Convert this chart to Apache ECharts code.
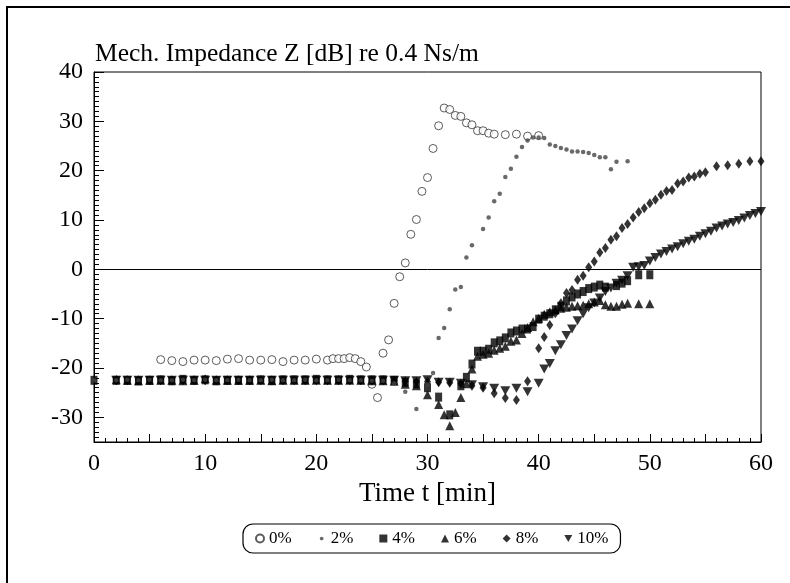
<!DOCTYPE html>
<html>
<head>
<meta charset="utf-8">
<script src="https://cdn.jsdelivr.net/npm/echarts@6/dist/echarts.min.js"></script>
<style>
  html, body { margin: 0; padding: 0; background: #fff; }
  #chart { width: 790px; height: 583px; }
</style>
</head>
<body>
<div id="chart"></div>
<script>
// [time (min), impedance (dB)]
var pct0 = [[6,-18.3],[7,-18.5],[8,-18.7],[9,-18.4],[10,-18.4],[11,-18.5],[12,-18.2],[13,-18.1],[14,-18.4],[15,-18.4],
  [16,-18.3],[17,-18.7],[18,-18.4],[19,-18.4],[20,-18.2],[21,-18.4],[21.5,-18.1],[22,-18.1],[22.5,-18.1],[23,-17.9],
  [23.5,-18.1],[24,-18.7],[24.5,-19.8],[25,-23.3],[25.5,-26.0],[26,-17.0],[26.5,-14.3],[27,-6.9],[27.5,-1.5],[28,1.3],
  [28.5,7.1],[29,10.1],[29.5,15.8],[30,18.6],[30.5,24.5],[31,29.1],[31.5,32.7],[32,32.4],[32.5,31.2],[33,31.0],
  [33.5,29.7],[34,29.3],[34.5,28.1],[35,28.1],[35.5,27.6],[36,27.4],[37,27.3],[38,27.4],[39,27.0],[40,27.1]];

var pct2 = [[0,-22.5],[2,-22.5],[3,-22.4],[4,-22.5],[5,-22.4],[6,-22.5],[7,-22.5],[8,-22.4],[9,-22.5],[10,-22.4],
  [11,-22.5],[12,-22.5],[13,-22.4],[14,-22.5],[15,-22.5],[16,-22.4],[17,-22.5],[18,-22.5],[19,-22.4],[20,-22.5],
  [21,-22.5],[22,-22.4],[23,-22.5],[24,-22.5],[25,-22.6],[26,-22.6],[27,-23.1],[28,-24.8],[29,-28.3],[30,-23.4],
  [30.5,-21.0],[31,-13.9],[31.5,-11.9],[32,-8.1],[32.5,-4.1],[33,-3.6],[33.5,2.4],[34,4.9],[35,8.2],[35.5,10.5],
  [36,13.8],[36.5,15.3],[37,18.7],[37.5,20.4],[38,22.8],[38.5,24.8],[39,26.1],[39.5,26.7],[40,26.7],[40.5,26.6],
  [41,25.3],[41.5,25.0],[42,24.6],[42.5,24.3],[43,23.9],[43.5,23.9],[44,23.8],[44.5,23.6],[45,23.2],[45.5,22.7],
  [46,22.7],[46.5,20.3],[47,21.8],[48,21.9]];

var pct4 = [[0,-22.5],[2,-22.5],[3,-22.5],[4,-22.6],[5,-22.5],[6,-22.4],[7,-22.6],[8,-22.3],[9,-22.5],[10,-22.4],
  [11,-22.6],[12,-22.5],[13,-22.5],[14,-22.5],[15,-22.4],[16,-22.5],[17,-22.4],[18,-22.4],[19,-22.4],[20,-22.3],
  [21,-22.4],[22,-22.4],[23,-22.3],[24,-22.4],[25,-22.4],[26,-22.4],[27,-22.5],[28,-22.9],[29,-23.2],[30,-24.0],
  [31,-25.9],[32,-29.5],[33,-23.6],[33.5,-21.9],[34,-19.2],[34.5,-16.6],[35,-16.6],[35.5,-16.2],[36,-14.9],[36.5,-14.5],
  [37,-13.9],[37.5,-12.9],[38,-12.5],[38.5,-12.1],[39,-12.1],[39.5,-11.6],[40,-10.1],[40.5,-9.5],[41,-9.0],[41.5,-8.2],
  [42,-7.5],[42.5,-6.4],[43,-5.6],[43.5,-5.0],[44,-4.5],[44.5,-3.9],[45,-3.6],[45.5,-3.2],[46,-3.6],[47,-3.3],
  [47.5,-2.8],[48,-2.3],[49,-1.1],[50,-1.1]];

var pct6 = [[2,-22.4],[3,-22.5],[4,-22.6],[5,-22.5],[6,-22.5],[7,-22.5],[8,-22.6],[9,-22.5],[10,-22.2],[11,-22.5],
  [12,-22.5],[13,-22.5],[14,-22.5],[15,-22.5],[16,-22.6],[17,-22.5],[18,-22.5],[19,-22.5],[20,-22.5],[21,-22.5],
  [22,-22.5],[23,-22.5],[24,-22.5],[25,-22.6],[26,-22.6],[27,-22.7],[28,-23.3],[29,-23.6],[30,-25.4],[31,-27.4],
  [31.5,-29.5],[32,-31.7],[32.5,-29.0],[33,-26.0],[33.5,-23.2],[34,-20.2],[34.5,-17.6],[35,-17.2],[35.5,-17.0],[36,-16.4],
  [36.5,-16.0],[37,-15.6],[37.5,-14.6],[38,-14.3],[38.5,-13.0],[39,-11.8],[39.5,-10.6],[40,-9.9],[40.5,-9.1],[41,-8.6],
  [41.5,-8.2],[42,-7.9],[42.5,-7.7],[43,-7.5],[43.5,-7.4],[44,-7.3],[44.5,-7.0],[45,-6.6],[45.5,-6.3],[46,-7.2],
  [46.5,-7.5],[47,-7.5],[47.5,-7.1],[48,-6.9],[49,-7.0],[50,-7.0]];

var pct8 = [[2,-22.5],[3,-22.5],[4,-22.5],[5,-22.5],[6,-22.5],[7,-22.5],[8,-22.5],[9,-22.5],[10,-22.5],[11,-22.5],
  [12,-22.5],[13,-22.5],[14,-22.5],[15,-22.5],[16,-22.5],[17,-22.5],[18,-22.5],[19,-22.5],[20,-22.5],[21,-22.5],
  [22,-22.5],[23,-22.5],[24,-22.5],[25,-22.5],[26,-22.5],[27,-22.6],[28,-22.7],[29,-22.8],[30,-22.8],[31,-22.9],
  [32,-23.0],[33,-23.2],[34,-23.6],[35,-24.0],[36,-25.1],[37,-26.1],[38,-26.5],[39,-22.7],[40,-16.0],[40.5,-13.7],
  [41,-11.3],[41.5,-8.9],[42,-6.9],[42.5,-4.8],[43,-4.2],[43.5,-2.1],[44,-1.3],[44.5,0.4],[45,1.6],[45.5,3.4],
  [46,4.3],[46.5,6.0],[47,6.7],[47.5,8.4],[48,9.2],[48.5,10.5],[49,11.6],[49.5,12.4],[50,13.4],[50.5,14.1],
  [51,15.1],[51.5,15.9],[52,16.1],[52.5,17.4],[53,17.8],[53.5,18.6],[54,18.8],[54.5,19.4],[55,19.7],[56,20.9],
  [57,21.1],[58,21.4],[59,21.9],[60,21.9]];

var pct10 = [[2,-22.5],[3,-22.5],[4,-22.5],[5,-22.5],[6,-22.5],[7,-22.5],[8,-22.5],[9,-22.5],[10,-22.5],[11,-22.5],
  [12,-22.5],[13,-22.5],[14,-22.5],[15,-22.5],[16,-22.5],[17,-22.5],[18,-22.5],[19,-22.5],[20,-22.5],[21,-22.5],
  [22,-22.5],[23,-22.5],[24,-22.5],[25,-22.5],[26,-22.5],[27,-22.5],[28,-22.6],[29,-22.6],[30,-22.4],[31,-22.9],
  [32,-22.9],[33,-23.1],[34,-23.4],[35,-23.8],[36,-24.1],[37,-24.6],[38,-24.1],[39,-24.8],[40,-23.1],[40.5,-20.2],
  [41,-19.1],[41.5,-16.5],[42,-15.3],[42.5,-13.4],[43,-12.1],[43.5,-10.4],[44,-9.0],[44.5,-7.8],[45,-6.8],[45.5,-5.8],
  [46,-4.5],[46.5,-3.8],[47,-2.8],[47.5,-2.2],[48,-1.3],[48.5,0.4],[49,0.5],[49.5,0.8],[50,1.7],[50.5,2.4],
  [51,3.1],[51.5,3.6],[52,4.1],[52.5,4.6],[53,5.2],[53.5,5.7],[54,6.1],[54.5,6.7],[55,7.2],[55.5,7.7],
  [56,8.4],[56.5,8.8],[57,9.2],[57.5,9.5],[58,9.9],[58.5,10.4],[59,10.9],[59.5,11.3],[60,11.7]];

var seriesNames = ['0%', '2%', '4%', '6%', '8%', '10%'];
var yLabelValues = [-30, -20, -10, 0, 10, 20, 30, 40];
var xLabelValues = [0, 10, 20, 30, 40, 50, 60];

var serif = 'Liberation Serif';

// small dot for the 2% legend entry (the default symbol fills the whole icon box)
var dotIcon = 'image://data:image/svg+xml;utf8,' + encodeURIComponent(
  '<svg xmlns="http://www.w3.org/2000/svg" width="10" height="10"><circle cx="5" cy="5" r="2.3" fill="#444"/></svg>');

var chart = echarts.init(document.getElementById('chart'), null, { renderer: 'canvas' });

var options = {
  animation: false,
  backgroundColor: '#fff',
  textStyle: { fontFamily: serif, color: '#000' },
  title: {
    text: 'Mech. Impedance Z [dB] re 0.4 Ns/m',
    left: 90,
    top: 36,
    textStyle: { fontFamily: serif, fontWeight: 'normal', fontSize: 25.5, color: '#000' }
  },
  grid: {
    left: 94, right: 29, top: 72, bottom: 141,
    show: true, borderColor: '#000', borderWidth: 1, backgroundColor: 'transparent'
  },
  legend: {
    left: 243, top: 524,
    data: [
      { name: '0%' },
      { name: '2%', icon: dotIcon },
      { name: '4%' },
      { name: '6%' },
      { name: '8%' },
      { name: '10%', icon: 'path://M0,0L10,0L5,9Z' }
    ],
    itemWidth: 8, itemHeight: 8, itemGap: 26,
    padding: [6, 12, 6, 12],
    borderColor: '#000', borderWidth: 1.2, borderRadius: 10,
    textStyle: { fontFamily: serif, fontSize: 17, color: '#000' }
  },
  xAxis: {
    type: 'value', min: 0, max: 60, interval: 5,
    name: 'Time t [min]', nameLocation: 'middle', nameGap: 37,
    nameTextStyle: { fontFamily: serif, fontSize: 27, color: '#000' },
    axisLine: { onZero: false, lineStyle: { color: '#000', width: 1 } },
    axisTick: { inside: true, length: 8, lineStyle: { color: '#000' } },
    minorTick: { show: true, splitNumber: 5, length: 4, lineStyle: { color: '#000' } },
    splitLine: { show: false },
    axisLabel: {
      margin: 10, fontFamily: serif, fontSize: 24, color: '#000',
      customValues: xLabelValues
    }
  },
  yAxis: [
    {
      type: 'value', min: -35, max: 40, interval: 5,
      axisLine: { onZero: false, lineStyle: { color: '#000', width: 1 } },
      axisTick: { inside: true, length: 5, lineStyle: { color: '#000' } },
      minorTick: { show: true, splitNumber: 5, length: 5, lineStyle: { color: '#000' } },
      splitLine: { show: false },
      axisLabel: { show: false }
    },
    {
      type: 'value', min: -35, max: 40, position: 'left',
      axisLine: { show: false, onZero: false },
      axisTick: { inside: true, length: 10, customValues: yLabelValues, lineStyle: { color: '#000' } },
      splitLine: { show: false },
      axisLabel: {
        margin: 11, fontFamily: serif, fontSize: 24, color: '#000',
        customValues: yLabelValues
      }
    }
  ],
  graphic: [
    {
      type: 'rect', silent: true, z: 100,
      shape: { x: 7, y: 7, width: 900, height: 700 },
      style: { fill: 'none', stroke: '#000', lineWidth: 2 }
    }
  ],
  series: [
    {
      name: '0%', type: 'scatter', data: pct0, z: 2,
      symbol: 'circle', symbolSize: 8,
      itemStyle: { color: '#fff', borderColor: '#333', borderWidth: 1 },
      markLine: {
        silent: true, symbol: 'none', label: { show: false },
        lineStyle: { color: '#000', width: 1, type: 'solid' },
        data: [{ yAxis: 0 }]
      }
    },
    {
      name: '2%', type: 'scatter', data: pct2, z: 8,
      symbol: 'circle', symbolSize: 4.5,
      itemStyle: { color: '#444' }
    },
    {
      name: '4%', type: 'scatter', data: pct4, z: 6,
      symbol: 'rect', symbolSize: [7, 9],
      itemStyle: { color: '#000' }
    },
    {
      name: '6%', type: 'scatter', data: pct6, z: 5,
      symbol: 'triangle', symbolSize: [9, 9],
      itemStyle: { color: '#000' }
    },
    {
      name: '8%', type: 'scatter', data: pct8, z: 4,
      symbol: 'diamond', symbolSize: [7, 10],
      itemStyle: { color: '#000' }
    },
    {
      name: '10%', type: 'scatter', data: pct10, z: 3,
      symbol: 'triangle', symbolRotate: 180, symbolSize: [10, 9],
      itemStyle: { color: '#000' }
    }
  ]
};

chart.setOption(options);
</script>
</body>
</html>
